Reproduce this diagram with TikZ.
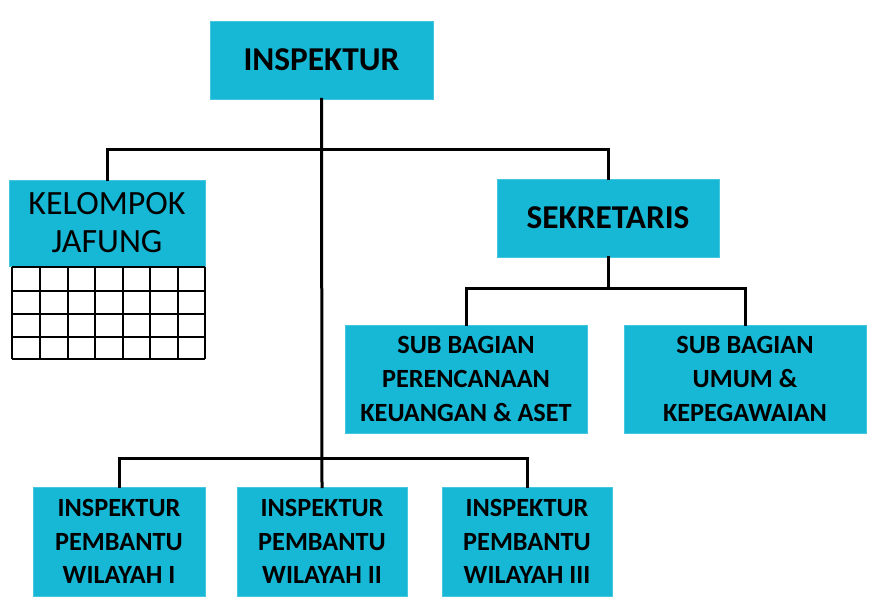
\documentclass[tikz,border=0pt]{standalone}
\usepackage{fontspec}
\setmainfont{Carlito}
\definecolor{boxcyan}{RGB}{22,184,214}
\tikzset{every picture/.style={line width=0.75pt}}
\tikzset{
  unitbox/.style={fill=boxcyan, draw=boxcyan!80!white, line width=0.5pt, inner sep=0pt, align=center, font=\bfseries\fontsize{19.7}{25.2}\selectfont},
  link/.style={line width=2.25pt, line cap=rect},
}

\begin{document}
\begin{tikzpicture}[x=0.75pt,y=0.75pt,yscale=-1,xscale=1]
\useasboundingbox (0,0) rectangle (873,602);

% Boxes
\node [unitbox, minimum width=167.25pt, minimum height=58.5pt, font=\bfseries\fontsize{25}{30}\selectfont] (insp) at (321.5,60) {INSPEKTUR};
\node [unitbox, minimum width=147pt, minimum height=64.5pt, font=\fontsize{25.5}{28.5}\selectfont] (kel) at (107,223) {KELOMPOK\\JAFUNG};
\node [unitbox, minimum width=166.5pt, minimum height=58.5pt, font=\bfseries\fontsize{25}{30}\selectfont] (sek) at (608,218) {SEKRETARIS};
\node [unitbox, minimum width=181.5pt, minimum height=81pt] (sbp) at (466,379) {SUB BAGIAN\\PERENCANAAN\\KEUANGAN \& ASET};
\node [unitbox, minimum width=181.5pt, minimum height=81pt] (sbu) at (745,379) {SUB BAGIAN\\UMUM \&\\KEPEGAWAIAN};
\node [unitbox, minimum width=129pt, minimum height=81.75pt] (ipw1) at (119,541.5) {INSPEKTUR\\PEMBANTU\\WILAYAH I};
\node [unitbox, minimum width=127.5pt, minimum height=81.75pt] (ipw2) at (322,541.5) {INSPEKTUR\\PEMBANTU\\WILAYAH II};
\node [unitbox, minimum width=127.5pt, minimum height=81.75pt] (ipw3) at (527,541.5) {INSPEKTUR\\PEMBANTU\\WILAYAH III};

% Grid under kelompok jafung
\foreach \gx in {12,40,68,95,123,150,178,205}
  \draw [line width=1.5pt] (\gx,267) -- (\gx,359);
\foreach \gy in {267,291,314,337,359}
  \draw [line width=1.5pt] (12,\gy) -- (205,\gy);

% Connectors
\coordinate (bartop) at (321.5,150);
\coordinate (barsek) at (608,288);
\coordinate (barbot) at (322,458);
\draw [link] (insp.south) -- (ipw2.north);
\draw [link] (kel.north) |- (bartop) -| (sek.north);
\draw [link] (sek.south) -- (barsek);
\draw [link] (sbp.north) |- (barsek) -| (sbu.north);
\draw [link] (ipw1.north) |- (barbot) -| (ipw3.north);

\end{tikzpicture}
\end{document}
